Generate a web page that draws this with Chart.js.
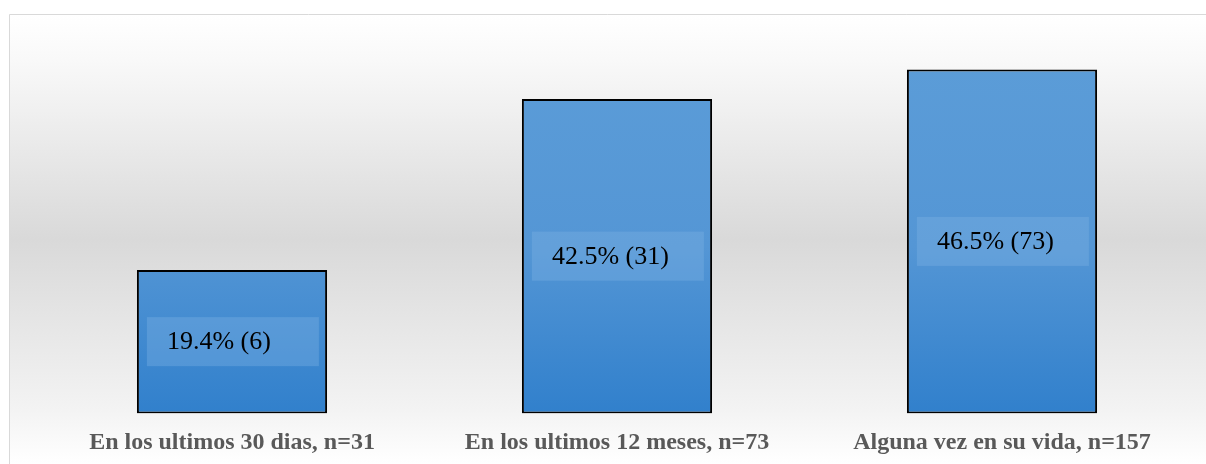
<!DOCTYPE html>
<html>
<head>
<meta charset="utf-8">
<script src="https://cdn.jsdelivr.net/npm/chart.js@4.4.0/dist/chart.umd.min.js"></script>
<style>
  html, body { margin: 0; padding: 0; background: #fff; }
  #wrap { width: 1206px; height: 464px; }
</style>
</head>
<body>
<div id="wrap"><canvas id="chart" width="1206" height="464"></canvas></div>
<script>
const categories = ['En los ultimos 30 dias, n=31', 'En los ultimos 12 meses, n=73', 'Alguna vez en su vida, n=157'];
const percents = [19.4, 42.5, 46.5];
const counts = [6, 31, 73];

// grey band behind the plot with a thin frame
const panelBackground = {
  id: 'panelBackground',
  beforeDraw(chart) {
    const ctx = chart.ctx;
    const x0 = 9.5, y0 = 14.5, w = chart.width, h = chart.height;
    const g = ctx.createLinearGradient(0, y0, 0, h);
    g.addColorStop(0, '#ffffff');
    g.addColorStop(0.1, '#f9f9f9');
    g.addColorStop(0.5, '#d9d9d9');
    g.addColorStop(0.88, '#f3f3f3');
    g.addColorStop(1, '#ffffff');
    ctx.save();
    ctx.fillStyle = g;
    ctx.fillRect(x0, y0, w - x0, h - y0);
    ctx.strokeStyle = '#d9d9d9';
    ctx.lineWidth = 1;
    ctx.beginPath();
    ctx.moveTo(x0, h);
    ctx.lineTo(x0, y0);
    ctx.lineTo(w, y0);
    ctx.stroke();
    ctx.restore();
  }
};

// value boxes centred in each bar
const valueBoxes = {
  id: 'valueBoxes',
  afterDatasetsDraw(chart) {
    const ctx = chart.ctx;
    const meta = chart.getDatasetMeta(0);
    ctx.save();
    meta.data.forEach((bar, i) => {
      const cy = (bar.y + bar.base) / 2;
      const bw = 172, bh = 49;
      const left = bar.x - bar.width / 2 + 10;
      ctx.fillStyle = 'rgba(130, 180, 230, 0.35)';
      ctx.fillRect(left, cy - bh / 2, bw, bh);
      ctx.fillStyle = '#000';
      ctx.font = '26px "Liberation Serif"';
      ctx.textAlign = 'left';
      ctx.textBaseline = 'middle';
      ctx.fillText(percents[i].toFixed(1) + '% (' + counts[i] + ')', left + 20, cy + 1);
    });
    ctx.restore();
  }
};

new Chart(document.getElementById('chart'), {
  type: 'bar',
  data: {
    labels: categories,
    datasets: [{
      data: percents,
      backgroundColor: (c) => {
        const area = c.chart.chartArea;
        if (!area) return '#4a8fd4';
        const g = c.chart.ctx.createLinearGradient(0, area.top, 0, area.bottom);
        g.addColorStop(0, '#5c9dd8');
        g.addColorStop(0.55, '#5496d5');
        g.addColorStop(1, '#3180cc');
        return g;
      },
      borderColor: '#000',
      borderWidth: 2,
      borderSkipped: false,
      barPercentage: 0.494,
      categoryPercentage: 1
    }]
  },
  options: {
    responsive: false,
    animation: false,
    layout: { padding: { left: 39.5, right: 11.5, top: 43.5, bottom: -7.4 } },
    plugins: { legend: { display: false }, tooltip: { enabled: false } },
    scales: {
      y: { display: false, min: 0, max: 50 },
      x: {
        grid: { display: false, drawTicks: false },
        border: { display: false },
        ticks: {
          color: '#595959',
          padding: 17,
          maxRotation: 0,
          font: { family: '"Liberation Serif"', size: 24, weight: 'bold', lineHeight: 1 }
        }
      }
    }
  },
  plugins: [panelBackground, valueBoxes]
});
</script>
</body>
</html>
